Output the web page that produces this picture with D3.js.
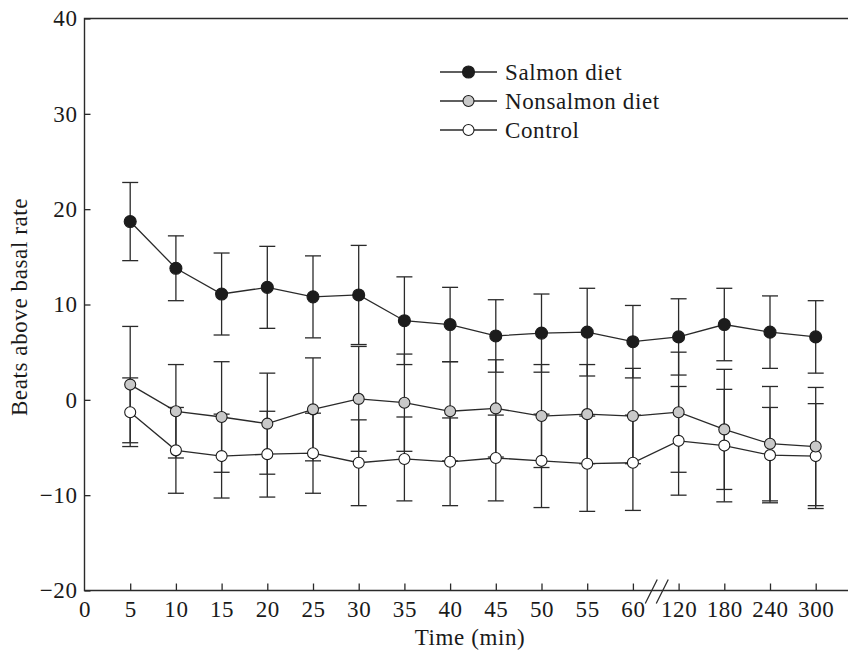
<!DOCTYPE html>
<html>
<head>
<meta charset="utf-8">
<script src="https://cdn.jsdelivr.net/npm/d3@7"></script>
<style>
  body { margin: 0; background: #fff; }
  svg text { font-family: "Liberation Serif", "DejaVu Serif", serif; fill: #1a1a1a; letter-spacing: 0.6px; }
</style>
</head>
<body>
<script>
// time points (min) -- categorical axis with a break between 60 and 120
var times = ["0", "5", "10", "15", "20", "25", "30", "35", "40", "45", "50", "55", "60", "120", "180", "240", "300"];
var sampleTimes = times.slice(1);

var salmon = [18.7, 13.8, 11.1, 11.8, 10.8, 11.0, 8.3, 7.9, 6.7, 7.0, 7.1, 6.1, 6.6, 7.9, 7.1, 6.6];
var salmonErr = [4.1, 3.4, 4.3, 4.3, 4.3, 5.2, 4.6, 3.9, 3.8, 4.1, 4.6, 3.8, 4.0, 3.8, 3.8, 3.8];
var nonsalmon = [1.6, -1.2, -1.8, -2.5, -1.0, 0.1, -0.3, -1.2, -0.9, -1.7, -1.5, -1.7, -1.3, -3.1, -4.6, -4.9];
var nonsalmonErr = [6.1, 4.9, 5.8, 5.3, 5.4, 5.5, 5.1, 5.2, 5.1, 5.4, 5.2, 5.0, 6.3, 6.3, 6.0, 6.2];
var control = [-1.3, -5.3, -5.9, -5.7, -5.6, -6.6, -6.2, -6.5, -6.1, -6.4, -6.7, -6.6, -4.3, -4.8, -5.8, -5.9];
var controlErr = [3.6, 4.5, 4.4, 4.5, 4.2, 4.5, 4.4, 4.6, 4.5, 4.9, 5.0, 5.0, 5.7, 5.9, 5.0, 5.5];

var seriesNames = ["Salmon diet", "Nonsalmon diet", "Control"];
var yTicks = [-20, -10, 0, 10, 20, 30, 40];

var w = 848, h = 651;
var pLeft = 84.5, pRight = 848, pTop = 18.5, pBottom = 590.5;

var series = [
    { name: seriesNames[0], values: salmon, err: salmonErr, fill: "#1c1c1c", r: 6 },
    { name: seriesNames[1], values: nonsalmon, err: nonsalmonErr, fill: "#c9c9c9", r: 5.5 },
    { name: seriesNames[2], values: control, err: controlErr, fill: "#ffffff", r: 5.5 }
];

var svg = d3.select("body").append("svg")
    .attr("width", w)
    .attr("height", h);

var xScale = d3.scalePoint()
    .domain(times)
    .range([pLeft, 815.7]);
var yScale = d3.scaleLinear()
    .domain([-20, 40])
    .range([pBottom, pTop]);

// frame: left, top and bottom lines (no right side)
svg.append("path")
    .attr("d", "M" + pRight + "," + pTop + "H" + pLeft + "V" + pBottom + "H" + pRight)
    .attr("fill", "none")
    .attr("stroke", "#2a2a2a")
    .attr("stroke-width", 1.4);

var xAxis = svg.append("g")
    .attr("transform", "translate(0," + pBottom + ")")
    .call(d3.axisBottom(xScale).tickSizeInner(-7).tickSizeOuter(0).tickPadding(10));
var yAxis = svg.append("g")
    .attr("transform", "translate(" + pLeft + ",0)")
    .call(d3.axisLeft(yScale).tickValues(yTicks).tickSizeInner(-6).tickSizeOuter(0).tickPadding(7));

[xAxis, yAxis].forEach(function (g) {
    g.select(".domain").remove();
    g.selectAll(".tick line").attr("stroke", "#2a2a2a").attr("stroke-width", 1.3);
    g.selectAll(".tick text").attr("font-size", "23px").attr("fill", "#1a1a1a");
});
xAxis.selectAll(".tick").filter(function (d) { return d === "0"; }).select("line").remove();

// axis break marks between 60 and 120
var bx = (xScale("60") + xScale("120")) / 2 + 1;
[-5.5, 5.5].forEach(function (off) {
    svg.append("line")
        .attr("x1", bx + off - 6).attr("y1", pBottom + 13)
        .attr("x2", bx + off + 6).attr("y2", pBottom - 11)
        .attr("stroke", "#2a2a2a")
        .attr("stroke-width", 1.3);
});

// axis titles
svg.append("text")
    .attr("x", 470)
    .attr("y", 645)
    .attr("text-anchor", "middle")
    .attr("font-size", "23px")
    .text("Time (min)");
svg.append("text")
    .attr("transform", "translate(27,307) rotate(-90)")
    .attr("text-anchor", "middle")
    .attr("font-size", "23px")
    .text("Beats above basal rate");

// error bars
var cap = 8;
series.forEach(function (s) {
    var g = svg.append("g");
    var rows = s.values.map(function (v, i) { return { t: sampleTimes[i], v: v, e: s.err[i] }; });
    g.selectAll("line.bar").data(rows).enter().append("line")
        .attr("x1", function (d) { return xScale(d.t); })
        .attr("x2", function (d) { return xScale(d.t); })
        .attr("y1", function (d) { return yScale(d.v + d.e); })
        .attr("y2", function (d) { return yScale(d.v - d.e); })
        .attr("stroke", "#2a2a2a").attr("stroke-width", 1.3);
    [1, -1].forEach(function (sign) {
        g.selectAll("line.cap" + sign).data(rows).enter().append("line")
            .attr("x1", function (d) { return xScale(d.t) - cap; })
            .attr("x2", function (d) { return xScale(d.t) + cap; })
            .attr("y1", function (d) { return yScale(d.v + sign * d.e); })
            .attr("y2", function (d) { return yScale(d.v + sign * d.e); })
            .attr("stroke", "#2a2a2a").attr("stroke-width", 1.3);
    });
});

// lines
var line = d3.line()
    .x(function (d, i) { return xScale(sampleTimes[i]); })
    .y(function (d) { return yScale(d); });
series.forEach(function (s) {
    svg.append("path")
        .datum(s.values)
        .attr("d", line)
        .attr("fill", "none")
        .attr("stroke", "#2a2a2a")
        .attr("stroke-width", 1.3);
});

// markers
series.slice().reverse().forEach(function (s) {
    svg.append("g").selectAll("circle")
        .data(s.values)
        .enter()
        .append("circle")
        .attr("cx", function (d, i) { return xScale(sampleTimes[i]); })
        .attr("cy", function (d) { return yScale(d); })
        .attr("r", s.r)
        .attr("fill", s.fill)
        .attr("stroke", "#1c1c1c")
        .attr("stroke-width", 1.1);
});

// legend
var legend = svg.append("g");
series.forEach(function (s, i) {
    var y = 72 + i * 29;
    legend.append("line")
        .attr("x1", 440).attr("x2", 497)
        .attr("y1", y).attr("y2", y)
        .attr("stroke", "#2a2a2a").attr("stroke-width", 1.3);
    legend.append("circle")
        .attr("cx", 468.5).attr("cy", y)
        .attr("r", i === 0 ? 6 : 5.5)
        .attr("fill", s.fill)
        .attr("stroke", "#1c1c1c")
        .attr("stroke-width", 1.1);
    legend.append("text")
        .attr("x", 505).attr("y", y)
        .attr("dy", "0.33em")
        .attr("font-size", "23px")
        .text(s.name);
});
</script>
</body>
</html>
